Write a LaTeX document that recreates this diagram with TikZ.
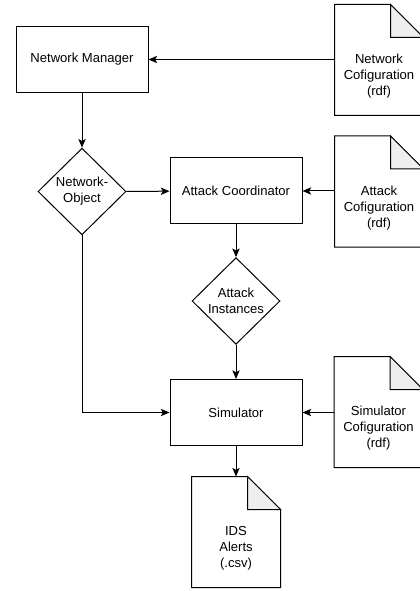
\documentclass[tikz,border=0pt]{standalone}
\usepackage{fontspec}
\setmainfont{Liberation Sans}
\usetikzlibrary{shapes.geometric, arrows.meta}

\definecolor{foldgray}{RGB}{238,238,238}

\tikzset{
    block/.style={draw, minimum width=99pt, minimum height=49.5pt, inner sep=0pt},
    decision/.style={draw, diamond, aspect=1, minimum width=66pt, minimum height=65pt, inner sep=0pt, align=center},
    document/.style={minimum width=66pt, minimum height=82.5pt, inner sep=0pt},
    doctext/.style={align=center, inner sep=0pt},
    flow/.style={-{Stealth[length=6.5pt, width=5.5pt, inset=1.5pt]}}
}

% document outline with a folded corner
\newcommand{\docoutline}[1]{
    \draw ([xshift=-24.75pt]#1.north east) -- (#1.north west) -- (#1.south west) -- (#1.south east) -- ([yshift=-24.75pt]#1.north east) -- cycle;
    \draw[fill=foldgray] ([xshift=-24.75pt]#1.north east) -- ([xshift=-24.75pt, yshift=-24.75pt]#1.north east) -- ([yshift=-24.75pt]#1.north east) -- cycle;
}

\begin{document}
\begin{tikzpicture}[x=0.75pt, y=-0.75pt, line width=0.75pt, font=\fontsize{9.8pt}{12pt}\selectfont]
    \clip (0, 0) rectangle (420, 591); % page size

    % processes
    \node[block] (manager) at (82, 59.5) {Network Manager};
    \node[block] (coordinator) at (236, 191) {Attack Coordinator};
    \node[block] (simulator) at (236, 412.5) {Simulator};

    % data objects
    \node[decision] (netobject) at (82, 191.5) {Network-\\Object};
    \node[decision] (instances) at (236, 301) {Attack\\Instances};

    % files
    \node[document] (netconfig) at (379, 60) {};
    \node[document] (attackconfig) at (379, 191.5) {};
    \node[document] (simconfig) at (378.5, 412) {};
    \node[document] (alerts) at (236, 532) {};
    \foreach \f in {netconfig, attackconfig, simconfig, alerts} {
        \docoutline{\f}
    }
    \node[doctext] (netconfigtext) at ([yshift=-12.4pt]netconfig.center) {Network\\Cofiguration\\(rdf)};
    \node[doctext] (attackconfigtext) at ([yshift=-12.4pt]attackconfig.center) {Attack\\Cofiguration\\(rdf)};
    \node[doctext] (simconfigtext) at ([yshift=-12.4pt]simconfig.center) {Simulator\\Cofiguration\\(rdf)};
    \node[doctext] (alertstext) at ([yshift=-12pt]alerts.center) {IDS\\Alerts\\(.csv)};

    % connectors
    \draw[flow] (netconfig.west |- manager.east) -- (manager.east);
    \draw[flow] (manager) -- (netobject);
    \draw[flow] (netobject) -- (coordinator);
    \draw[flow] (attackconfig.west |- coordinator.east) -- (coordinator.east);
    \draw[flow] (coordinator) -- (instances);
    \draw[flow] (instances) -- (simulator);
    \draw[flow] (netobject.south) |- (simulator.west);
    \draw[flow] (simconfig.west |- simulator.east) -- (simulator.east);
    \draw[flow] (simulator) -- (alerts);

\end{tikzpicture}
\end{document}
